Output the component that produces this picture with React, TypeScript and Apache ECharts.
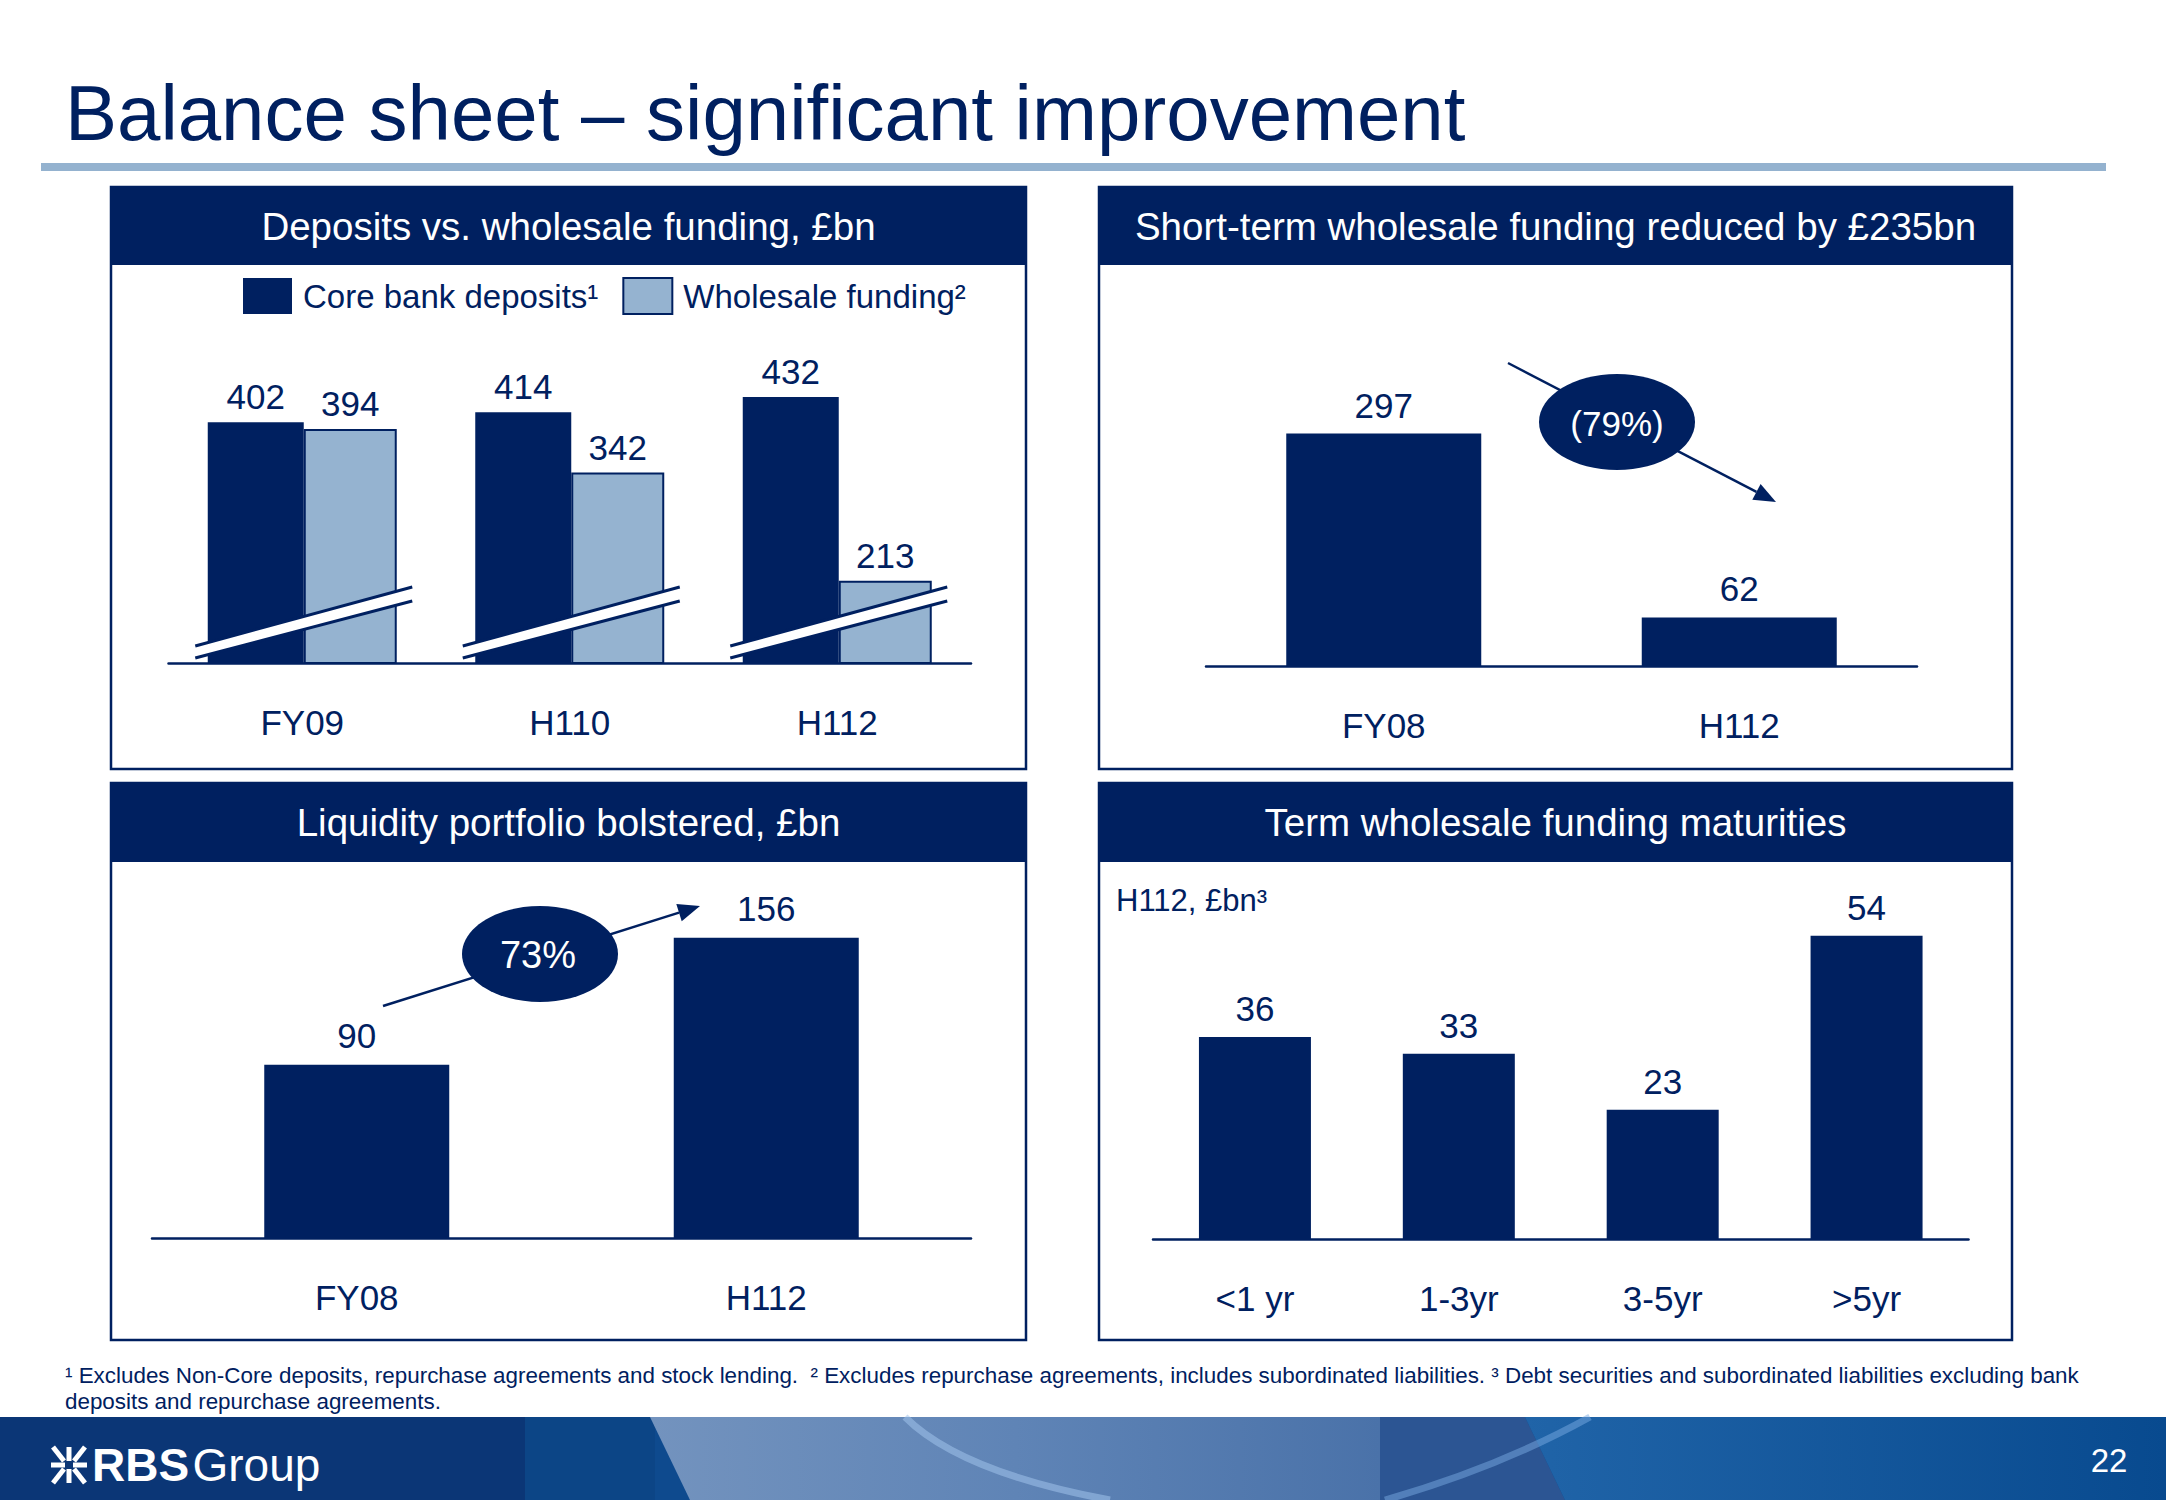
import React, { useEffect, useRef } from 'react';
import * as echarts from 'echarts';

// ---------- data ----------
const depCategories = ['FY09', 'H110', 'H112'];
const coreDeposits = [402, 414, 432];
const wholesaleFunding = [394, 342, 213];

const stCategories = ['FY08', 'H112'];
const stWholesale = [297, 62];

const liqCategories = ['FY08', 'H112'];
const liquidity = [90, 156];

const matCategories = ['<1 yr', '1-3yr', '3-5yr', '>5yr'];
const maturities = [36, 33, 23, 54];

const seriesNames = ['Core bank deposits\u00b9', 'Wholesale funding\u00b2'];

const titleText = 'Balance sheet \u2013 significant improvement';
const panelTitles = [
  'Deposits vs. wholesale funding, \u00a3bn',
  'Short-term wholesale funding reduced by \u00a3235bn',
  'Liquidity portfolio bolstered, \u00a3bn',
  'Term wholesale funding maturities',
];
const maturitySubtitle = 'H112, \u00a3bn\u00b3';
const changeLabels = ['(79%)', '73%'];
const footnoteLines = [
  '\u00b9 Excludes Non-Core deposits, repurchase agreements and stock lending.  \u00b2 Excludes repurchase agreements, includes subordinated liabilities. \u00b3 Debt securities and subordinated liabilities excluding bank',
  'deposits and repurchase agreements.',
];
const pageNumber = '22';

// ---------- styles ----------
const NAVY = '#002060';
const LIGHT = '#95B3D0';
const FONT = '"Liberation Sans", Arial, Helvetica, sans-serif';
const DEP_MIN = 115; // broken axis start

function catAxis(gridIndex: number, data: string[]) {
  return {
    type: 'category',
    gridIndex,
    data,
    axisLine: { show: true, onZero: false, lineStyle: { color: NAVY, width: 2.5 } },
    axisTick: { show: false },
    axisLabel: { color: NAVY, fontSize: 35, margin: 42, fontFamily: FONT },
    splitLine: { show: false },
  };
}
function valAxis(gridIndex: number, min: number, max: number) {
  return { type: 'value', gridIndex, min, max, show: false, splitLine: { show: false } };
}
function barLabel(distance: number) {
  return { show: true, position: 'top', distance, color: NAVY, fontSize: 35, fontFamily: FONT };
}

function header(x: number, y: number, w: number, h: number, text: string) {
  return [
    { type: 'rect', shape: { x, y, width: w, height: h }, style: { fill: NAVY }, z: 5 },
    {
      type: 'text',
      style: { text, x: x + w / 2, y: y + h / 2, fill: '#fff', fontSize: 38.5, fontFamily: FONT, align: 'center', verticalAlign: 'middle' },
      z: 6,
    },
  ];
}
function box(x: number, y: number, w: number, h: number) {
  return { type: 'rect', shape: { x, y, width: w, height: h }, style: { fill: 'none', stroke: NAVY, lineWidth: 2.5 }, z: 5 };
}
function arrow(x1: number, y1: number, x2: number, y2: number) {
  const dx = x2 - x1, dy = y2 - y1;
  const len = Math.sqrt(dx * dx + dy * dy);
  const ux = dx / len, uy = dy / len;
  const L = 22, W = 9;
  const bx = x2 - ux * L, by = y2 - uy * L;
  return [
    { type: 'line', shape: { x1, y1, x2: bx, y2: by }, style: { stroke: NAVY, lineWidth: 2.5 }, z: 8 },
    {
      type: 'polygon',
      shape: { points: [[x2, y2], [bx - uy * W, by + ux * W], [bx + uy * W, by - ux * W]] },
      style: { fill: NAVY },
      z: 8,
    },
  ];
}

function staticGraphics(): any[] {
  const g: any[] = [];
  // title
  g.push({
    type: 'text',
    style: { text: titleText, x: 65, y: 113, fill: NAVY, fontSize: 78, fontFamily: FONT, align: 'left', verticalAlign: 'middle' },
    z: 5,
  });
  g.push({ type: 'rect', shape: { x: 41, y: 163, width: 2065, height: 8 }, style: { fill: '#94B2CF' }, z: 5 });

  // panels
  g.push(box(111, 187, 915, 582));
  g.push(box(1099, 187, 913, 582));
  g.push(box(111, 783, 915, 557));
  g.push(box(1099, 783, 913, 557));
  g.push(...header(111, 187, 915, 78, panelTitles[0]));
  g.push(...header(1099, 187, 913, 78, panelTitles[1]));
  g.push(...header(111, 783, 915, 79, panelTitles[2]));
  g.push(...header(1099, 783, 913, 79, panelTitles[3]));

  // subtitle in maturities panel
  g.push({
    type: 'text',
    style: { text: maturitySubtitle, x: 1116, y: 900, fill: NAVY, fontSize: 31, fontFamily: FONT, align: 'left', verticalAlign: 'middle' },
    z: 6,
  });

  // (79%) annotation
  g.push(...arrow(1508, 363, 1776, 502));
  g.push({ type: 'ellipse', shape: { cx: 1617, cy: 422, rx: 78, ry: 48 }, style: { fill: NAVY }, z: 9 });
  g.push({
    type: 'text',
    style: { text: changeLabels[0], x: 1617, y: 423, fill: '#fff', fontSize: 35, fontFamily: FONT, align: 'center', verticalAlign: 'middle' },
    z: 10,
  });
  // 73% annotation
  g.push(...arrow(383, 1006, 700, 906));
  g.push({ type: 'ellipse', shape: { cx: 540, cy: 954, rx: 78, ry: 48 }, style: { fill: NAVY }, z: 9 });
  g.push({
    type: 'text',
    style: { text: changeLabels[1], x: 538, y: 955, fill: '#fff', fontSize: 38, fontFamily: FONT, align: 'center', verticalAlign: 'middle' },
    z: 10,
  });

  // footnotes
  footnoteLines.forEach((t, i) => {
    g.push({
      type: 'text',
      style: { text: t, x: 65, y: 1375 + i * 26, fill: NAVY, fontSize: 22.4, fontFamily: FONT, align: 'left', verticalAlign: 'middle' },
      z: 5,
    });
  });

  // footer band
  const fy = 1417, fh = 83;
  g.push({ type: 'rect', shape: { x: 0, y: fy, width: 2166, height: fh }, style: { fill: '#0E4A8E' }, z: 1 });
  g.push({ type: 'rect', shape: { x: 0, y: fy, width: 525, height: fh }, style: { fill: '#0B3676' }, z: 2 });
  g.push({ type: 'rect', shape: { x: 525, y: fy, width: 130, height: fh }, style: { fill: '#0C4586' }, z: 2 });
  g.push({
    type: 'polygon',
    shape: { points: [[650, fy], [1380, fy], [1380, fy + fh], [690, fy + fh]] },
    style: {
      fill: new echarts.graphic.LinearGradient(0, 0, 1, 0, [
        { offset: 0, color: '#7393BE' },
        { offset: 0.5, color: '#5F84B6' },
        { offset: 1, color: '#4A72A9' },
      ]),
    },
    z: 2,
  });
  g.push({
    type: 'polygon',
    shape: { points: [[1380, fy], [1525, fy], [1565, fy + fh], [1380, fy + fh]] },
    style: { fill: '#2C5593' },
    z: 2,
  });
  g.push({
    type: 'polygon',
    shape: { points: [[1525, fy], [2166, fy], [2166, fy + fh], [1565, fy + fh]] },
    style: {
      fill: new echarts.graphic.LinearGradient(0, 0, 1, 0, [
        { offset: 0, color: '#2064A8' },
        { offset: 1, color: '#084A8F' },
      ]),
    },
    z: 2,
  });
  g.push({
    type: 'bezierCurve',
    shape: { x1: 905, y1: fy, x2: 1110, y2: fy + fh, cpx1: 960, cpy1: fy + 55 },
    style: { stroke: 'rgba(160,195,235,0.55)', lineWidth: 7, fill: 'none' },
    z: 3,
  });
  g.push({
    type: 'bezierCurve',
    shape: { x1: 1590, y1: fy, x2: 1385, y2: fy + fh, cpx1: 1500, cpy1: fy + 50 },
    style: { stroke: 'rgba(120,170,225,0.5)', lineWidth: 7, fill: 'none' },
    z: 3,
  });
  // logo mark (simplified)
  const lx = 51, ly = 1447;
  const W = '#ffffff';
  const logoLines = [
    [[lx + 2, ly], [lx + 13, ly + 14]],
    [[lx + 18, ly], [lx + 18, ly + 14]],
    [[lx + 34, ly], [lx + 23, ly + 14]],
    [[lx + 2, ly + 36], [lx + 13, ly + 22]],
    [[lx + 18, ly + 36], [lx + 18, ly + 22]],
    [[lx + 34, ly + 36], [lx + 23, ly + 22]],
    [[lx, ly + 18], [lx + 14, ly + 18]],
    [[lx + 22, ly + 18], [lx + 36, ly + 18]],
  ];
  logoLines.forEach((p) => {
    g.push({ type: 'polyline', shape: { points: p }, style: { stroke: W, lineWidth: 5, fill: 'none' }, z: 4 });
  });
  g.push({
    type: 'text',
    style: {
      text: '{b|RBS} {r|Group}',
      x: 92,
      y: 1465,
      fill: W,
      align: 'left',
      verticalAlign: 'middle',
      rich: {
        b: { fontSize: 46, fontWeight: 'bold', fontFamily: FONT, fill: W, color: W },
        r: { fontSize: 46, fontFamily: FONT, fill: W, color: W },
      },
    },
    z: 4,
  });
  g.push({
    type: 'text',
    style: { text: pageNumber, x: 2109, y: 1460, fill: W, fontSize: 33, fontFamily: FONT, align: 'center', verticalAlign: 'middle' },
    z: 4,
  });
  return g;
}

function buildOption(): any {
  return {
    animation: false,
    backgroundColor: '#ffffff',
    textStyle: { fontFamily: FONT },
    legend: {
      data: seriesNames,
      left: 243,
      top: 277,
      padding: 0,
      itemWidth: 49,
      itemHeight: 36,
      itemGap: 24,
      icon: 'rect',
      selectedMode: false,
      textStyle: { color: NAVY, fontSize: 33, fontFamily: FONT, padding: [0, 0, 0, 6] },
    },
    grid: [
      { left: 168.5, top: 340, width: 802.5, height: 323 },
      { left: 1206, top: 353, width: 711, height: 313 },
      { left: 152, top: 853, width: 819, height: 385 },
      { left: 1153, top: 846, width: 815.5, height: 393 },
    ],
    xAxis: [
      catAxis(0, depCategories),
      catAxis(1, stCategories),
      catAxis(2, liqCategories),
      catAxis(3, matCategories),
    ],
    yAxis: [valAxis(0, DEP_MIN, 500), valAxis(1, 0, 400), valAxis(2, 0, 200), valAxis(3, 0, 70)],
    series: [
      {
        name: seriesNames[0],
        type: 'bar',
        xAxisIndex: 0,
        yAxisIndex: 0,
        data: coreDeposits,
        barWidth: 96,
        barGap: '0%',
        itemStyle: { color: NAVY },
        label: barLabel(8),
      },
      {
        name: seriesNames[1],
        type: 'bar',
        xAxisIndex: 0,
        yAxisIndex: 0,
        data: wholesaleFunding,
        barWidth: 93,
        barGap: '0%',
        itemStyle: { color: LIGHT, borderColor: NAVY, borderWidth: 2 },
        label: barLabel(8),
      },
      {
        name: 'Short-term wholesale funding',
        type: 'bar',
        xAxisIndex: 1,
        yAxisIndex: 1,
        data: stWholesale,
        barWidth: 195,
        itemStyle: { color: NAVY },
        label: barLabel(11),
      },
      {
        name: 'Liquidity portfolio',
        type: 'bar',
        xAxisIndex: 2,
        yAxisIndex: 2,
        data: liquidity,
        barWidth: 185,
        itemStyle: { color: NAVY },
        label: barLabel(12),
      },
      {
        name: 'Term wholesale funding maturities',
        type: 'bar',
        xAxisIndex: 3,
        yAxisIndex: 3,
        data: maturities,
        barWidth: 112,
        itemStyle: { color: NAVY },
        label: barLabel(11),
      },
    ],
  };
}

export default function App() {
  const ref = useRef<HTMLDivElement>(null);
  useEffect(() => {
    if (!ref.current) return;
    const chart = echarts.init(ref.current, null, { renderer: 'svg', width: 2166, height: 1500 });
    chart.setOption(buildOption());
    // axis-break marks across each deposits group
    const breaks: any[] = [];
    depCategories.forEach((_, i) => {
      const p = chart.convertToPixel({ xAxisIndex: 0, yAxisIndex: 0 }, [i, DEP_MIN]) as number[];
      const cx = p[0], b = p[1];
      const l = cx - 107, r = cx + 110;
      const u1: [number, number] = [l, b - 17], u2: [number, number] = [r, b - 76];
      const d1: [number, number] = [l, b - 5], d2: [number, number] = [r, b - 62];
      breaks.push({ type: 'polygon', shape: { points: [u1, u2, d2, d1] }, style: { fill: '#ffffff' }, z: 20 });
      breaks.push({ type: 'line', shape: { x1: u1[0], y1: u1[1], x2: u2[0], y2: u2[1] }, style: { stroke: NAVY, lineWidth: 3 }, z: 21 });
      breaks.push({ type: 'line', shape: { x1: d1[0], y1: d1[1], x2: d2[0], y2: d2[1] }, style: { stroke: NAVY, lineWidth: 3 }, z: 21 });
    });
    chart.setOption({ graphic: { elements: [...staticGraphics(), ...breaks] } });
    return () => chart.dispose();
  }, []);
  return <div ref={ref} style={{ position: 'absolute', left: 0, top: 0, width: 2166, height: 1500 }} />;
}
